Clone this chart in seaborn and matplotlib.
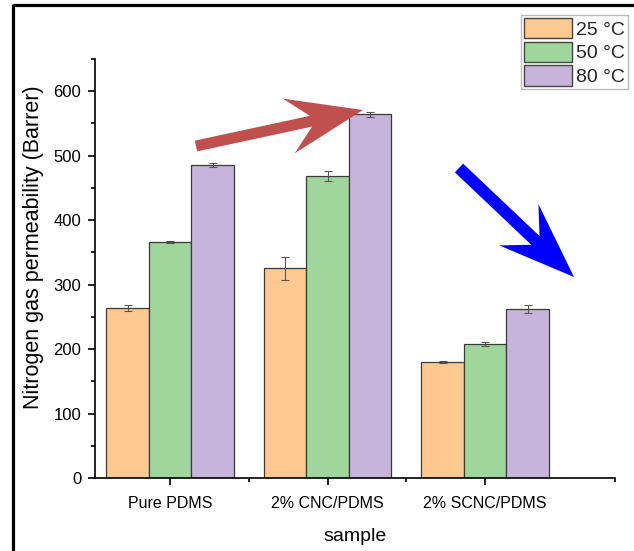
import numpy as np
import pandas as pd
import matplotlib
matplotlib.use("Agg")
import matplotlib.pyplot as plt
from matplotlib.patches import FancyArrow
from matplotlib.ticker import MultipleLocator, FixedLocator
import seaborn as sns

# Nitrogen permeability data (Barrer)
samples = ["Pure PDMS", "2% CNC/PDMS", "2% SCNC/PDMS"]
temps = ["25 °C", "50 °C", "80 °C"]
perm_25 = [264, 325, 180]
perm_50 = [366, 468, 208]
perm_80 = [485, 564, 262]
err_25 = [5, 18, 2]
err_50 = [2, 8, 3]
err_80 = [3, 4, 6]
yticks = [0, 100, 200, 300, 400, 500, 600]

colors = ["#FDC991", "#9ED69B", "#C6B4DB"]

sns.set_theme(style="ticks")
plt.rcParams["font.family"] = ["Liberation Sans", "DejaVu Sans"]

df = pd.DataFrame({
    "sample": samples * 3,
    "temp": [t for t in temps for _ in samples],
    "value": perm_25 + perm_50 + perm_80,
})
errs = [err_25, err_50, err_80]

fig = plt.figure(figsize=(6.34, 5.51), dpi=100)
ax = fig.add_axes([0.150, 0.1325, 0.820, 0.7605])

sns.barplot(data=df, x="sample", y="value", hue="temp", order=samples,
            hue_order=temps, palette=colors, width=0.81, gap=0,
            errorbar=None, edgecolor="#3a3a3a", linewidth=0.9, ax=ax,
            saturation=1)

for cont, e in zip(ax.containers, errs):
    xs = [p.get_x() + p.get_width() / 2 for p in cont.patches]
    hs = [p.get_height() for p in cont.patches]
    ax.errorbar(xs, hs, yerr=e, fmt="none", ecolor="#555555",
                elinewidth=0.8, capsize=3, capthick=0.8, zorder=5)

ax.set_ylim(0, 650)
ax.set_xlim(-0.476, 2.825)
ax.set_yticks(yticks)
ax.yaxis.set_minor_locator(MultipleLocator(50))
ax.xaxis.set_minor_locator(FixedLocator([0.5, 1.5, 2.825]))
sns.despine(ax=ax)
for s in ["left", "bottom"]:
    ax.spines[s].set_color("black")
    ax.spines[s].set_linewidth(1.2)
ax.tick_params(which="major", direction="out", length=5, width=1.2,
               color="black", labelcolor="black")
ax.tick_params(axis="y", which="major", pad=5, labelsize=12)
ax.tick_params(axis="x", which="major", pad=8, labelsize=11.5)
ax.tick_params(which="minor", direction="out", length=3, width=1.2,
               color="black")
ax.set_xlabel("sample", fontsize=14, labelpad=12, color="black")
ax.set_ylabel("Nitrogen gas permeability (Barrer)", fontsize=15.5,
              color="black")
ax.yaxis.set_label_coords(-0.098, 0.551)

leg = ax.legend(loc="upper left", bbox_to_anchor=(521 / 634, 1 - 15 / 551),
                bbox_transform=fig.transFigure, fontsize=14,
                handlelength=2.47, handleheight=1.24, labelspacing=0.15,
                handletextpad=0.2, borderpad=0.15, borderaxespad=0,
                frameon=True, fancybox=False, title=None)
leg.get_frame().set_edgecolor("#aaaaaa")
leg.get_frame().set_linewidth(1.0)
for h in leg.legend_handles:
    h.set_edgecolor("#444444")
    h.set_linewidth(1.0)

# Overlay in pixel coordinates for frame lines and arrows
ov = fig.add_axes([0, 0, 1, 1], zorder=10)
ov.set_xlim(0, 634)
ov.set_ylim(551, 0)
ov.axis("off")
ov.patch.set_alpha(0)
ov.plot([12.5, 634], [4.5, 4.5], color="black", lw=2.3, solid_capstyle="butt")
ov.plot([12.5, 12.5], [3.5, 551], color="black", lw=2.3, solid_capstyle="butt")

red_tail, red_tip = (196, 146), (363, 110)
ov.add_patch(FancyArrow(red_tail[0], red_tail[1],
                        red_tip[0] - red_tail[0], red_tip[1] - red_tail[1],
                        width=11, head_width=56, head_length=76,
                        overhang=0.3, length_includes_head=True,
                        color="#C0504D", lw=0))
blue_tail, blue_tip = (459, 168), (574, 277)
ov.add_patch(FancyArrow(blue_tail[0], blue_tail[1],
                        blue_tip[0] - blue_tail[0], blue_tip[1] - blue_tail[1],
                        width=12, head_width=57, head_length=76,
                        overhang=0.3, length_includes_head=True,
                        color="#0000FF", lw=0))

fig.savefig("out.png", dpi=100)
